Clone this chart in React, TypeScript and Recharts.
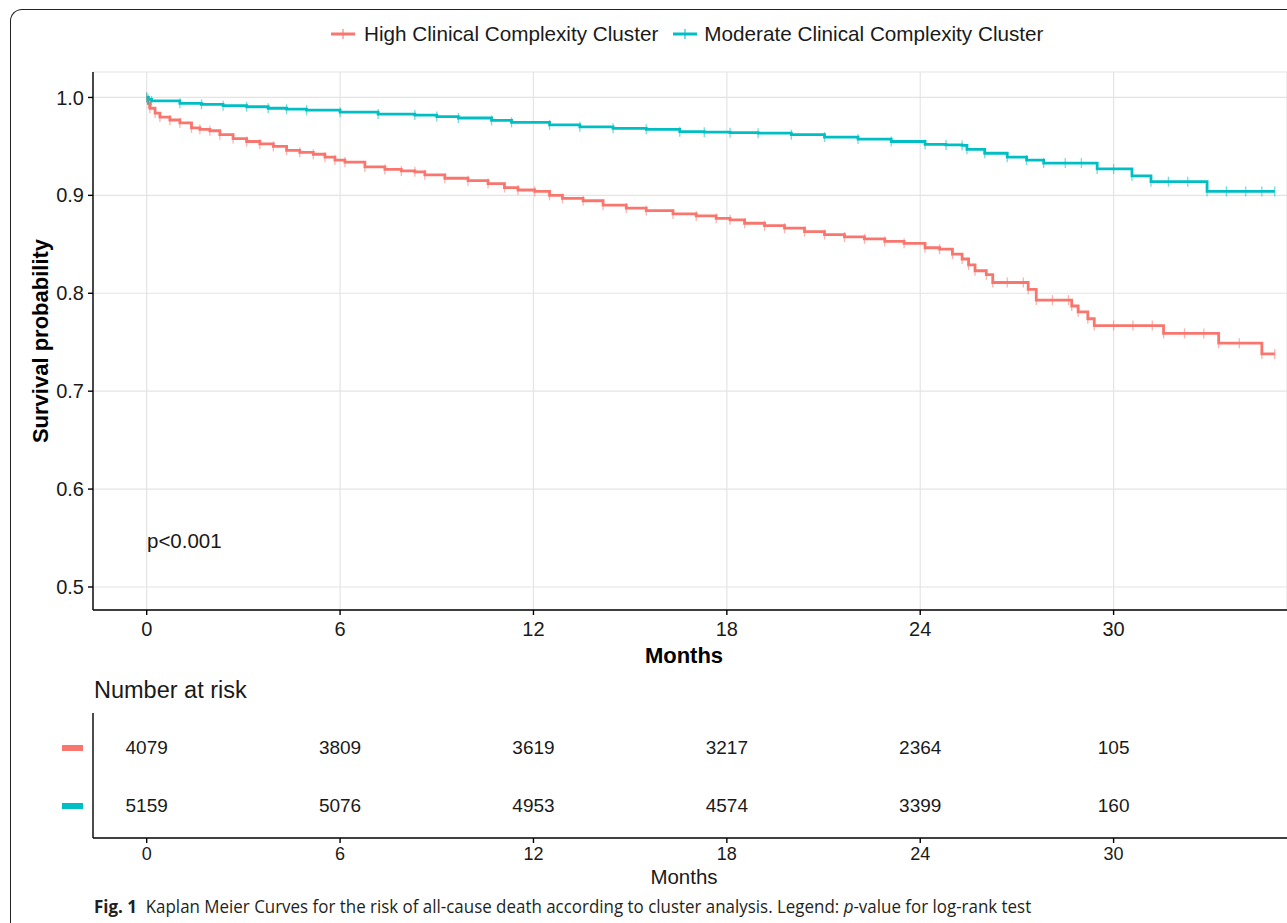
import React from 'react';
import { ComposedChart, Line, Scatter, XAxis, YAxis, CartesianGrid } from 'recharts';

const HIGH = '#F8766D';
const MOD = '#00BFC4';
const FONT = '"Liberation Sans", Arial, sans-serif';

const seriesNames = ['High Clinical Complexity Cluster', 'Moderate Clinical Complexity Cluster'];
const monthTicks = [0, 6, 12, 18, 24, 30];
const survivalTicks = [0.5, 0.6, 0.7, 0.8, 0.9, 1.0];

// [month, survival]
const highCurve: [number, number][] = [
  [0, 1.0], [0.05, 0.994], [0.1, 0.989], [0.26, 0.984], [0.41, 0.98], [0.72, 0.977],
  [1.03, 0.974], [1.39, 0.969], [1.65, 0.9675], [1.96, 0.966], [2.27, 0.962], [2.68, 0.958],
  [3.1, 0.955], [3.51, 0.9525], [3.93, 0.95], [4.34, 0.946], [4.75, 0.944], [5.17, 0.942],
  [5.53, 0.939], [5.84, 0.936], [6.15, 0.934], [6.77, 0.929], [7.39, 0.9265], [7.9, 0.925],
  [8.32, 0.924], [8.63, 0.921], [9.25, 0.9175], [9.97, 0.915], [10.59, 0.912], [11.1, 0.908],
  [11.52, 0.9055], [12.04, 0.904], [12.5, 0.9], [12.9, 0.897], [13.54, 0.8945], [14.16, 0.89],
  [14.88, 0.887], [15.5, 0.8845], [16.33, 0.881], [17.05, 0.879], [17.67, 0.8765], [18.1, 0.875],
  [18.55, 0.8715], [19.17, 0.869], [19.79, 0.8665], [20.41, 0.863], [21.03, 0.86], [21.65, 0.8575],
  [22.27, 0.8555], [22.9, 0.853], [23.5, 0.851], [24.15, 0.8465], [24.6, 0.845], [25.0, 0.84],
  [25.3, 0.835], [25.5, 0.829], [25.7, 0.823], [26.05, 0.819], [26.25, 0.811], [26.7, 0.811],
  [27.2, 0.811], [27.35, 0.804], [27.6, 0.793], [28.1, 0.793], [28.6, 0.793], [28.7, 0.787],
  [28.9, 0.781], [29.2, 0.774], [29.4, 0.767], [30.0, 0.767], [30.6, 0.767], [31.2, 0.767],
  [31.55, 0.759], [32.2, 0.759], [32.8, 0.759], [33.26, 0.749], [33.9, 0.749], [34.6, 0.738],
  [35.0, 0.738],
];

const moderateCurve: [number, number][] = [
  [0, 1.0], [0.05, 0.998], [0.15, 0.9965], [1.03, 0.994], [1.7, 0.993], [2.37, 0.9916],
  [3.1, 0.9905], [3.77, 0.989], [4.34, 0.988], [4.96, 0.987], [6.0, 0.985], [7.18, 0.983],
  [8.32, 0.982], [9.0, 0.9805], [9.67, 0.979], [10.7, 0.9765], [11.32, 0.9745], [12.5, 0.972],
  [13.44, 0.97], [14.47, 0.9685], [15.5, 0.9675], [16.54, 0.965], [17.3, 0.9645], [18.1, 0.964],
  [18.97, 0.9635], [20.0, 0.962], [21.03, 0.9595], [22.07, 0.9575], [23.1, 0.955], [24.15, 0.952],
  [24.8, 0.9515], [25.3, 0.951], [25.45, 0.947], [26.0, 0.943], [26.7, 0.939], [27.3, 0.936],
  [27.83, 0.933], [28.5, 0.933], [29.0, 0.933], [29.49, 0.927], [30.0, 0.927], [30.57, 0.92],
  [31.16, 0.914], [31.7, 0.914], [32.3, 0.914], [32.9, 0.904], [33.5, 0.904], [34.1, 0.904],
  [34.6, 0.904], [35.0, 0.904],
];

const riskMonths = [0, 6, 12, 18, 24, 30];
const highAtRisk = [4079, 3809, 3619, 3217, 2364, 105];
const moderateAtRisk = [5159, 5076, 4953, 4574, 3399, 160];

const xDomain: [number, number] = [-1.666, 35.38];

const highData = highCurve.map(([m, s]) => ({ m, s }));
const moderateData = moderateCurve.map(([m, s]) => ({ m, s }));
const riskRows = [
  ...riskMonths.map((m, i) => ({ m, row: 2, n: highAtRisk[i] })),
  ...riskMonths.map((m, i) => ({ m, row: 1, n: moderateAtRisk[i] })),
];

// censoring "+" marks; the horizontal bar is hidden under the line
const censorMark = (color: string) => (props: any) => {
  const { cx, cy, index } = props;
  if (cx == null || cy == null) return <g key={index} />;
  return (
    <line key={index} x1={cx} x2={cx} y1={cy - 5} y2={cy + 5} stroke={color} strokeWidth={1.3} opacity={0.55} />
  );
};

const LegendIcon = ({ color }: { color: string }) => (
  <svg width={26} height={14} style={{ marginRight: 8 }}>
    <line x1={1} x2={25} y1={7} y2={7} stroke={color} strokeWidth={3} />
    <line x1={13} x2={13} y1={2} y2={12} stroke={color} strokeWidth={1.3} opacity={0.8} />
  </svg>
);

const axisLine = { stroke: '#000', strokeWidth: 1.4 };

export default function App() {
  return (
    <div style={{ position: 'absolute', left: 0, top: 0, width: 1287, height: 923, background: '#fff', overflow: 'hidden', fontFamily: FONT }}>
      {/* figure frame */}
      <div style={{ position: 'absolute', left: 10, top: 9, width: 1400, height: 1000, borderLeft: '1.5px solid #222', borderTop: '1.5px solid #222', borderTopLeftRadius: 12 }} />

      {/* legend */}
      <div style={{ position: 'absolute', top: 22, left: 330, display: 'flex', alignItems: 'center', fontSize: 20.7, color: '#1a1a1a', whiteSpace: 'nowrap' }}>
        <LegendIcon color={HIGH} />
        <span style={{ marginRight: 14 }}>{seriesNames[0]}</span>
        <LegendIcon color={MOD} />
        <span style={{ marginLeft: -2 }}>{seriesNames[1]}</span>
      </div>

      <div style={{ position: 'absolute', left: 0, top: 0 }}>
        <ComposedChart width={1287} height={670} margin={{ top: 72, right: 0, bottom: 0, left: 0 }}>
          <CartesianGrid stroke="#e4e4e4" strokeWidth={1.2} />
          <XAxis
            type="number"
            dataKey="m"
            domain={xDomain}
            ticks={monthTicks}
            allowDataOverflow
            height={60}
            axisLine={axisLine}
            tickLine={axisLine}
            tickSize={5}
            tickMargin={7}
            tick={{ fill: '#1a1a1a', fontSize: 20, fontFamily: FONT }}
            label={{ value: 'Months', position: 'insideBottom', offset: 7, dx: -6, fill: '#000', fontSize: 22, fontWeight: 700, fontFamily: FONT }}
          />
          <YAxis
            type="number"
            dataKey="s"
            domain={[0.4765, 1.026]}
            ticks={survivalTicks}
            allowDataOverflow
            width={93}
            axisLine={axisLine}
            tickLine={axisLine}
            tickSize={5}
            tickMargin={4}
            tickFormatter={(v: number) => v.toFixed(1)}
            tick={{ fill: '#1a1a1a', fontSize: 20, fontFamily: FONT }}
            label={{
              content: () => (
                <text x={40} y={341} transform="rotate(-90 40 341)" textAnchor="middle" dominantBaseline="central" fontSize={22} fontWeight={700} fontFamily={FONT} fill="#000">
                  Survival probability
                </text>
              ),
            }}
          />
          <Line data={highData} dataKey="s" type="stepAfter" stroke={HIGH} strokeWidth={2.8} dot={censorMark(HIGH)} activeDot={false} isAnimationActive={false} />
          <Line data={moderateData} dataKey="s" type="stepAfter" stroke={MOD} strokeWidth={2.8} dot={censorMark(MOD)} activeDot={false} isAnimationActive={false} />
        </ComposedChart>
      </div>

      <div style={{ position: 'absolute', left: 147, top: 529, fontSize: 20.5, color: '#1a1a1a' }}>p&lt;0.001</div>

      {/* risk table */}
      <div style={{ position: 'absolute', left: 94, top: 677, fontSize: 23.5, color: '#1a1a1a' }}>Number at risk</div>
      <div style={{ position: 'absolute', left: 0, top: 700 }}>
        <ComposedChart width={1287} height={200} margin={{ top: 13, right: 0, bottom: 0, left: 0 }}>
          <XAxis
            type="number"
            dataKey="m"
            domain={xDomain}
            ticks={riskMonths}
            allowDataOverflow
            height={62}
            axisLine={axisLine}
            tickLine={axisLine}
            tickSize={5}
            tickMargin={4}
            tick={{ fill: '#1a1a1a', fontSize: 18, fontFamily: FONT }}
            label={{ value: 'Months', position: 'insideBottom', offset: 16, dx: -6, fill: '#1a1a1a', fontSize: 20.5, fontFamily: FONT }}
          />
          <YAxis
            type="number"
            dataKey="row"
            domain={[0.448, 2.603]}
            ticks={[1, 2]}
            allowDataOverflow
            width={93}
            axisLine={axisLine}
            tickLine={false}
            tick={(p: any) => (
              <rect key={p.index} x={62} y={p.y - 3} width={21} height={6} fill={p.payload.value === 2 ? HIGH : MOD} />
            )}
          />
          <Scatter
            data={riskRows}
            isAnimationActive={false}
            shape={(p: any) => (
              <text x={p.cx} y={p.cy} textAnchor="middle" dominantBaseline="central" fontSize={19} fontFamily={FONT} fill="#1a1a1a">
                {p.payload.n}
              </text>
            )}
          />
        </ComposedChart>
      </div>

      {/* caption */}
      <div style={{ position: 'absolute', left: 94, top: 893, fontSize: 18.5, color: '#231f20', fontFamily: '"Open Sans", "Noto Sans", sans-serif', whiteSpace: 'nowrap', transform: 'scaleX(0.915)', transformOrigin: 'left center' }}>
        <b>Fig. 1</b>&nbsp;&nbsp;Kaplan Meier Curves for the risk of all-cause death according to cluster analysis. Legend: <i>p</i>-value for log-rank test
      </div>
    </div>
  );
}
